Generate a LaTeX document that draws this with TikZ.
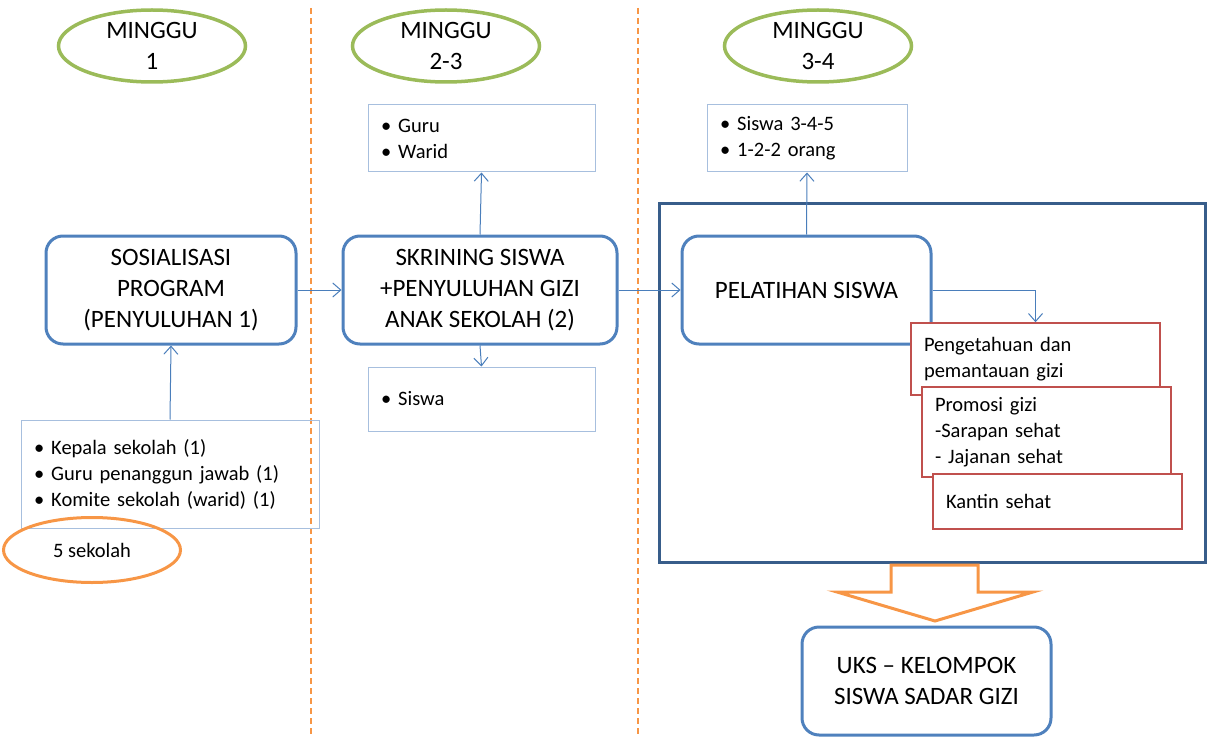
\documentclass[tikz,border=0pt]{standalone}
\usepackage{fontspec}
\setmainfont{Carlito}
\usetikzlibrary{arrows.meta,shapes.geometric}
\definecolor{boxblue}{HTML}{4F81BD}
\definecolor{listblue}{HTML}{A7BFDE}
\definecolor{linkblue}{HTML}{4A7EBB}
\definecolor{framenavy}{HTML}{385D8A}
\definecolor{weekgreen}{HTML}{9BBB59}
\definecolor{markorange}{HTML}{F79646}
\definecolor{taskred}{HTML}{C0504D}
\newcommand{\itm}{\textbullet\hspace{7pt}}
\tikzset{
  bigfont/.style={font=\fontsize{25}{31}\selectfont},
  smallfont/.style={font=\fontsize{20.5}{26}\selectfont},
  mainbox/.style={draw=boxblue, line width=3pt, rounded corners=17pt, fill=white, minimum width=250pt, minimum height=108pt, align=center, inner sep=0pt, bigfont},
  weekoval/.style={ellipse, draw=weekgreen, line width=3.5pt, minimum width=187pt, minimum height=72pt, align=center, inner sep=0pt, bigfont},
  listbox/.style={draw=listblue, line width=1pt, align=left, inner xsep=13pt, inner ysep=0pt, smallfont},
  taskbox/.style={draw=taskred, line width=1.5pt, fill=white, align=left, minimum width=249pt, text width=223pt, inner xsep=13pt, inner ysep=0pt, smallfont},
  link/.style={draw=linkblue, line width=1pt, -{Straight Barb[length=8pt,width=14pt]}},
  weekline/.style={draw=markorange, line width=1.5pt, dash pattern=on 6pt off 4pt},
}

\begin{document}
\begin{tikzpicture}[x=1pt,y=-1pt]
\useasboundingbox (0,0) rectangle (1207,738);
\draw[weekline] (311,8) -- (311,738);
\draw[weekline] (638,8) -- (638,738);
\draw[framenavy, line width=3pt] (659,204) rectangle (1205,562);

\node[weekoval] (week1) at (152,46) {MINGGU\\1};
\node[weekoval] (week2) at (446,46) {MINGGU\\2-3};
\node[weekoval] (week3) at (818,46) {MINGGU\\3-4};

\node[mainbox] (sosial) at (171,290) {SOSIALISASI\\PROGRAM\\(PENYULUHAN 1)};
\node[mainbox, minimum width=274pt] (skrining) at (480,290) {SKRINING SISWA\\+PENYULUHAN GIZI\\ANAK SEKOLAH (2)};
\node[mainbox, minimum width=249pt] (latih) at (806.5,290) {PELATIHAN SISWA};
\node[mainbox, minimum width=249pt] (uks) at (926.5,681) {UKS -- KELOMPOK\\SISWA SADAR GIZI};

\node[listbox, minimum width=227pt, minimum height=67pt, text width=201pt] (guru) at (481.5,138.5) {\itm Guru\\\itm Warid};
\node[listbox, minimum width=200pt, minimum height=67pt, text width=174pt] (peserta) at (807,138.5) {\itm Siswa 3-4-5\\\itm 1-2-2 orang};
\node[listbox, minimum width=227pt, minimum height=64pt, text width=201pt] (siswa) at (481.5,399) {\itm Siswa};
\node[listbox, minimum width=298pt, minimum height=108pt, text width=272pt] (sekolah) at (170,474) {\itm Kepala sekolah (1)\\\itm Guru penanggun jawab (1)\\\itm Komite sekolah (warid) (1)};
\node[ellipse, draw=markorange, line width=3pt, minimum width=177pt, minimum height=65pt, inner sep=0pt, smallfont] (jumlah) at (92,550) {5 sekolah};

\node[taskbox, minimum height=72pt] (tahu) at (1035.5,359) {Pengetahuan dan\\pemantauan gizi};
\node[taskbox, minimum height=90pt] (promosi) at (1046.5,432) {Promosi gizi\\-Sarapan sehat\\- Jajanan sehat};
\node[taskbox, minimum height=55pt] (kantin) at (1057.5,501.5) {Kantin sehat};

\draw[link] (sekolah.north) -- (sosial.south);
\draw[link] (sosial.east) -- (skrining.west);
\draw[link] (skrining.north) -- (guru.south);
\draw[link] (skrining.south) -- (siswa.north);
\draw[link] (skrining.east) -- (latih.west);
\draw[link] (latih.north) -- (peserta.south);
\draw[link] (latih.east) -| (tahu.north);

\draw[markorange, line width=3pt, line join=miter] (891,565) -- (978,565) -- (978,592) -- (1033,592) -- (935,621) -- (837,592) -- (891,592) -- cycle;
\end{tikzpicture}
\end{document}
